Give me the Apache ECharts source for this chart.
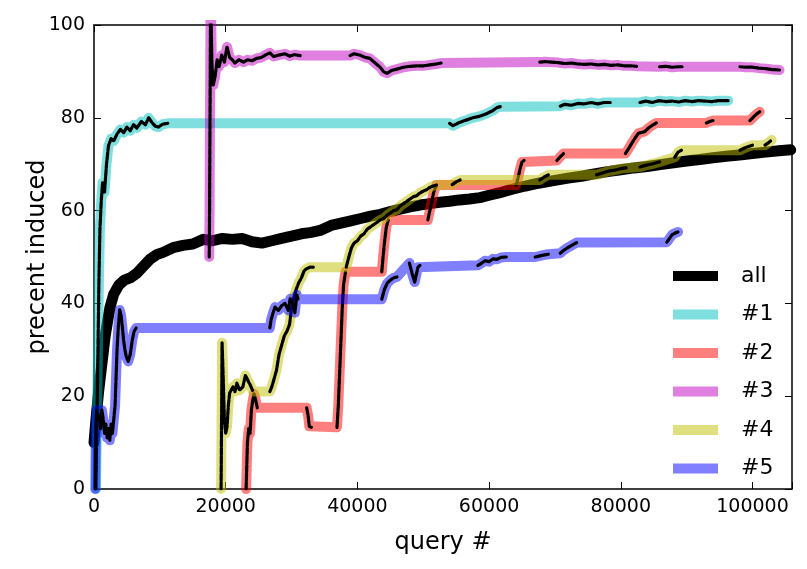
<!DOCTYPE html>
<html><head><meta charset="utf-8">
<script src="https://cdn.jsdelivr.net/npm/echarts@6/dist/echarts.min.js"></script>
<style>html,body{margin:0;padding:0;background:#fff}#c{width:807px;height:569px}</style>
</head><body><div id="c"></div>
<script>
const xTicks = [0, 20000, 40000, 60000, 80000, 100000];
const yTicks = [0, 20, 40, 60, 80, 100];
const seriesNames = ['all', '#1', '#2', '#3', '#4', '#5'];

const dataAll = [[0,10],[300,15],[700,21],[1200,27],[1700,33],[2400,39],[3000,42],[3800,44],[4600,45],[5500,45.5],[6500,46.5],[7500,48],[8500,49.5],[9500,50.5],[10500,51],[12000,52],[13500,52.5],[15000,52.8],[16600,53.8],[18000,53.5],[19500,54],[21000,53.8],[22500,54],[24000,53.3],[25500,53],[27000,53.5],[28500,54],[30000,54.5],[31500,55],[33000,55.3],[34500,55.8],[36000,56.8],[37500,57.3],[39000,57.8],[40500,58.3],[42000,58.8],[43500,59.2],[45000,59.8],[46500,60.3],[48000,60.8],[49500,61.2],[51000,61.5],[52500,61.8],[54000,62],[55500,62.3],[57000,62.5],[58600,62.8],[60000,63.3],[61500,63.8],[63500,64.6],[65500,65.3],[67500,65.9],[70000,66.5],[72000,67],[74000,67.4],[76000,67.9],[78000,68.4],[80000,68.8],[82000,69.2],[84000,69.5],[86000,69.9],[88000,70.3],[90000,70.7],[92000,71],[94000,71.4],[96000,71.7],[98000,72],[100000,72.3],[102000,72.6],[104000,72.9],[105800,73.1]];

const data1 = [[300,0],[450,15],[600,30],[750,45],[900,56],[1100,62],[1300,66],[1600,64],[1900,70],[2200,74],[2600,75.5],[3000,75],[3500,76.5],[4000,77.5],[4500,76.8],[5000,78],[5500,77.2],[6000,78.5],[6500,77.8],[7200,79.2],[7800,78.5],[8300,80],[8800,79],[9300,78.2],[9800,78],[10400,78.6],[11200,78.8],[54000,78.8],[54500,78.3],[55500,79],[56500,79.5],[57500,80],[58500,80.3],[59500,80.8],[60500,81.5],[61200,82.2],[61700,82.4],[70800,82.5],[71500,82.9],[72500,82.7],[73500,83.1],[74500,83],[75500,83.3],[76500,83],[77500,83.3],[78400,83.3],[82900,83.3],[83800,83.6],[84800,83.3],[85800,83.7],[86800,83.5],[87800,83.6],[88800,83.4],[89800,83.7],[90800,83.5],[91800,83.7],[92800,83.6],[93800,83.5],[94800,83.7],[95800,83.7],[96300,83.7]];

const data2 = [[23100,0],[23200,5],[23300,10],[23500,13],[23700,12],[23900,17],[24100,19],[24300,20.5],[24500,19.5],[24800,17.5],[32300,17.5],[32500,16],[32700,13.5],[33000,13.3],[36900,13.3],[37100,18],[37300,25],[37500,32],[37700,39],[37900,44],[38200,46.8],[43700,46.8],[43900,50],[44100,53],[44400,56.5],[44700,58],[50700,58],[51000,60],[51300,62],[51600,64],[52000,65.5],[64100,65.5],[64400,67],[64700,69],[65000,70.5],[65300,70.8],[70300,70.8],[70800,71.6],[71300,72.3],[80700,72.3],[81200,73.4],[81700,74.6],[82200,75.7],[82700,76.7],[83600,77],[84200,77.8],[84800,78.4],[85400,78.9],[93000,78.9],[93500,79.2],[94000,79.4],[96300,79.4],[99600,79.4],[100100,80.1],[100600,80.8],[101100,81.3]];

const data3 = [[17500,50],[17550,60],[17600,75],[17650,90],[17700,106],[17800,100],[17900,92],[18100,87],[18400,89],[18700,92.5],[19000,91],[19400,93.5],[19800,92],[20200,95.3],[20600,93],[21000,92.5],[21400,91.8],[22000,92.5],[22700,92],[23300,92.5],[24000,92.3],[24700,92.8],[25400,93],[26000,93.5],[26700,94],[27300,93.2],[28000,93.5],[29000,93.8],[29700,93.3],[30500,93.6],[31300,93.4],[38900,93.4],[39500,93.8],[40400,93.5],[41200,93],[41900,92.8],[42700,91.8],[43400,91],[44000,89.9],[44500,89.6],[45200,90.2],[46000,90.5],[47000,90.9],[48000,91.1],[49000,91.2],[50000,91.2],[51000,91.4],[52000,91.6],[52700,91.8],[67700,92],[68500,92.1],[69500,92],[70500,91.9],[71500,91.7],[72500,91.8],[73500,91.6],[74500,91.5],[75500,91.6],[76500,91.4],[77500,91.5],[78500,91.3],[79500,91.4],[80500,91.2],[81500,91.2],[82400,91.1],[85900,91],[86800,91.1],[87800,90.9],[88800,91],[89300,91],[98100,91],[99000,90.9],[100000,90.9],[101000,90.7],[102000,90.6],[103000,90.4],[104100,90.3]];

const data4 = [[19300,0],[19350,10],[19400,20],[19450,31.5],[19600,25],[19800,15],[20000,12],[20200,13.4],[20400,18],[20600,20.7],[20900,21.5],[21100,22],[21400,21],[21700,22.8],[22100,21.3],[22600,22],[23000,24.5],[23200,24.8],[23500,23],[23700,22.5],[24000,21.5],[24200,21],[26700,21],[27000,22],[27300,23.5],[27700,25.5],[28100,29],[28500,31],[28900,33],[29300,34],[29700,35.5],[30000,39],[30300,41],[30700,43],[31100,44.5],[31500,45.5],[31900,47],[32300,47.5],[32800,47.8],[33300,47.8],[38300,47.8],[38700,50],[39100,52],[39500,53],[40000,53.5],[40500,54.5],[41000,55],[41500,56],[42000,56.5],[42500,57],[43000,57.5],[43500,58],[44000,58.3],[44500,59],[45000,59.5],[45500,60],[46000,60.2],[46500,61],[47000,61.5],[47500,62],[48000,62.5],[48500,63],[49000,63.2],[49500,63.8],[50000,64.2],[50500,64.5],[51000,65],[51500,65.3],[52000,65.5],[54400,65.6],[55000,66.2],[55600,66.6],[67700,66.6],[68300,67.2],[69000,67.7],[76300,67.7],[77200,68.1],[78100,68.5],[79000,68.7],[79900,69],[80800,69.2],[82900,69.4],[83900,69.8],[84900,70.1],[85900,70.5],[88200,71.5],[88700,72.6],[89200,73],[98100,73],[98800,73.5],[99400,73.8],[100000,74.1],[101900,74.1],[102400,74.6],[102900,75.2]];

const data5 = [[200,0],[250,8],[300,14],[400,17],[600,15],[800,16],[1000,13],[1200,17],[1400,15],[1600,12],[1800,14],[2000,11],[2200,13],[2400,10.5],[2600,14],[2800,12],[3000,15],[3200,18],[3350,24],[3500,30],[3700,35],[3900,38.6],[4100,37.5],[4300,35],[4500,32],[4700,30],[4900,28.5],[5200,27.5],[5500,29],[5800,32],[6100,34],[6400,34.7],[26700,34.7],[26900,36.5],[27200,38],[27500,39.2],[28000,38.5],[28500,39.5],[29000,40],[29500,38.5],[29800,41],[30200,40],[30500,38],[30800,41.8],[31000,40.9],[43700,40.9],[44100,43],[44500,44.3],[45000,45],[45500,45.5],[46000,45.7],[47900,48.7],[48300,46.5],[48700,44.6],[49200,47.8],[49500,48.2],[58300,48.2],[58800,48.6],[59400,49.2],[60000,49],[60600,49.6],[61200,49.5],[61800,49.9],[62600,50],[67000,50],[67600,50.2],[68200,50.4],[69000,50.6],[70800,50.8],[71300,51.4],[71800,51.9],[72300,52.3],[72800,52.7],[73300,53.1],[87000,53.2],[87400,54],[87800,54.8],[88300,55.2],[88700,55.4]];

const seriesData = [dataAll, data1, data2, data3, data4, data5];
const colors = ['#000000', 'rgba(0,191,191,0.5)', 'rgba(255,0,0,0.5)', 'rgba(191,0,191,0.5)', 'rgba(191,191,0,0.5)', 'rgba(0,0,255,0.5)'];

// black marker trace along the dense (changing) parts of each run
function denseTrace(data, gap) {
  const out = [];
  for (let i = 0; i < data.length; i++) {
    if (i > 0 && data[i][0] - data[i - 1][0] > gap) out.push([(data[i][0] + data[i - 1][0]) / 2, '-']);
    out.push(data[i]);
  }
  return out;
}

const FONT = 'DejaVu Sans';
const series = [];
seriesData.forEach((d, i) => {
  series.push({
    name: seriesNames[i], type: 'line', data: d, showSymbol: false, symbol: 'none',
    lineStyle: { color: colors[i], width: i === 0 ? 11 : 10, cap: 'round', join: 'round' },
    itemStyle: { color: colors[i] }, silent: true, animation: false, clip: true
  });
  if (i > 0) {
    series.push({
      name: 'trace' + i, type: 'line', data: denseTrace(d, 1400), showSymbol: false, symbol: 'none',
      connectNulls: false,
      lineStyle: { color: '#000', width: 3.2, cap: 'round', join: 'round', type: [7, 1.5] },
      silent: true, animation: false, clip: true
    });
  }
});

const axisCommon = {
  axisLine: { show: true, onZero: false, lineStyle: { color: '#000', width: 1.5 } },
  axisTick: { show: true, inside: true, length: 7, lineStyle: { color: '#000', width: 1 } },
  splitLine: { show: false }
};

const chart = echarts.init(document.getElementById('c'), null, { renderer: 'canvas' });
chart.setOption({
  animation: false,
  backgroundColor: '#fff',
  grid: { left: 94, right: 15, top: 25, bottom: 80, containLabel: false, outerBoundsMode: 'none' },
  legend: {
    orient: 'vertical', left: 668, top: 260, itemWidth: 45, itemHeight: 10, itemGap: 16.5,
    textStyle: { fontSize: 22, fontFamily: FONT, color: '#000', lineHeight: 20, padding: [0, 0, 0, 18] },
    data: seriesNames.map((n, i) => ({ name: n, icon: 'rect', itemStyle: { color: colors[i] } }))
  },
  xAxis: [
    Object.assign({
      type: 'value', min: xTicks[0], max: 106000, interval: xTicks[1] - xTicks[0],
      name: 'query #', nameLocation: 'middle', nameGap: 42, nameMoveOverlap: false,
      nameTextStyle: { fontSize: 24, fontFamily: FONT, color: '#000' },
      axisLabel: { fontSize: 19, fontFamily: FONT, color: '#000', margin: 9,
        formatter: v => xTicks.indexOf(v) >= 0 ? String(v) : '' }
    }, axisCommon),
    Object.assign({
      type: 'value', position: 'top', min: xTicks[0], max: 106000, interval: xTicks[1] - xTicks[0],
      axisLabel: { show: false }
    }, axisCommon)
  ],
  yAxis: [
    Object.assign({
      type: 'value', min: yTicks[0], max: yTicks[yTicks.length - 1], interval: yTicks[1] - yTicks[0],
      name: 'precent induced', nameLocation: 'middle', nameGap: 44, nameMoveOverlap: false,
      nameTextStyle: { fontSize: 24, fontFamily: FONT, color: '#000' },
      axisLabel: { fontSize: 19, fontFamily: FONT, color: '#000', margin: 9 }
    }, axisCommon),
    Object.assign({
      type: 'value', position: 'right', min: yTicks[0], max: yTicks[yTicks.length - 1], interval: yTicks[1] - yTicks[0],
      axisLabel: { show: false }
    }, axisCommon)
  ],
  series: series
});
</script></body></html>
